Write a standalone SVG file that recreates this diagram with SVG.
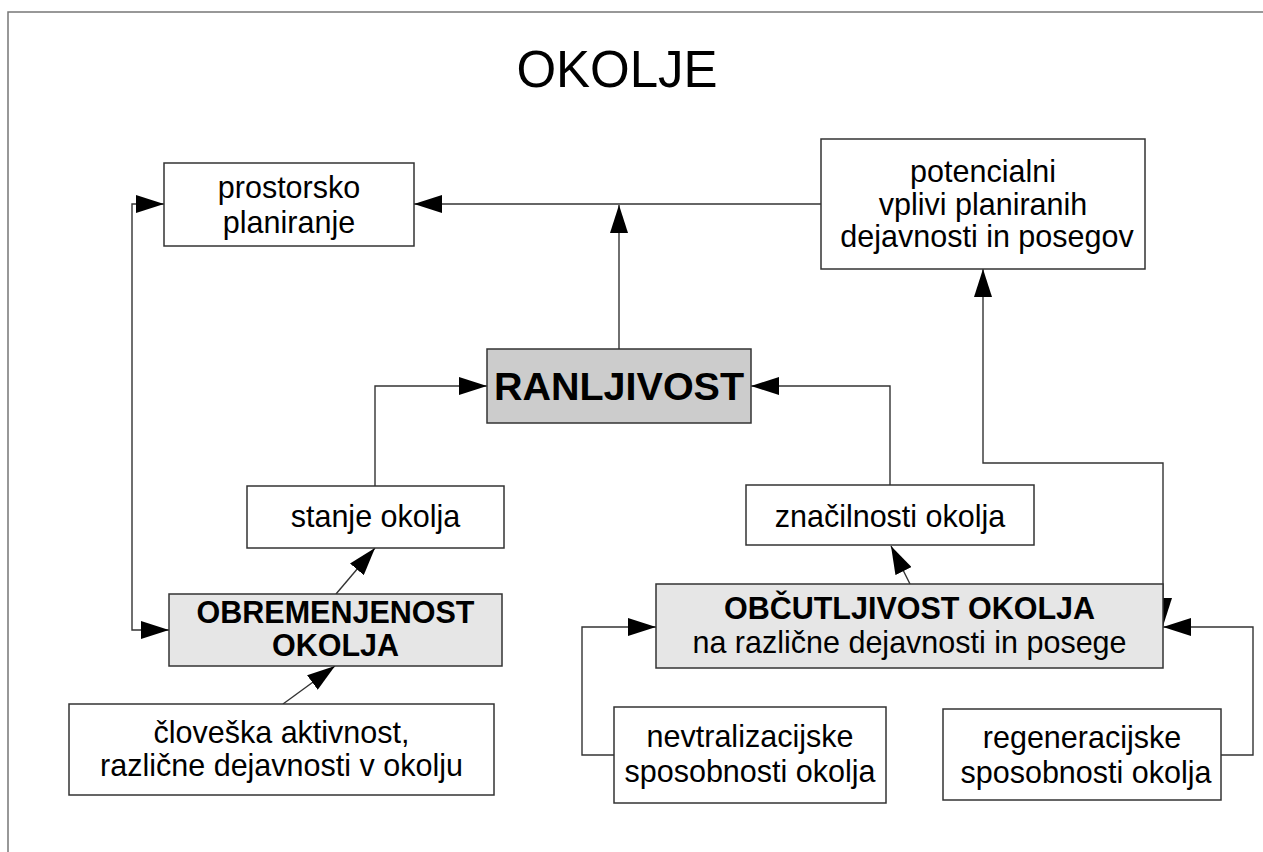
<svg xmlns="http://www.w3.org/2000/svg" width="1263" height="852" viewBox="0 0 1263 852">
<style>
.box{fill:#fff;stroke:#333;stroke-width:1.5}
.g1{fill:#ccc;stroke:#333;stroke-width:1.5}
.g2{fill:#e6e6e6;stroke:#333;stroke-width:1.5}
.t{font-family:"Liberation Sans",Arial,sans-serif;font-size:30.5px;fill:#000;text-anchor:middle}
.b{font-weight:bold}
.c{fill:none;stroke:#333;stroke-width:1.4}
</style>
<defs>
<marker id="ah" markerUnits="userSpaceOnUse" markerWidth="28" markerHeight="18" refX="28" refY="9" orient="auto-start-reverse" viewBox="0 0 28 18">
<path d="M0,0 L28,9 L0,18 z" fill="#000"/>
</marker>
</defs>
<rect width="1263" height="852" fill="#fff"/>
<g id="frame" fill="none" stroke="#777" stroke-width="1.5">
<path d="M8,852 L8,12 L1263,12"/>
</g>
<text class="t" x="617" y="87" style="font-size:51px">OKOLJE</text>
<g id="connectors">
<path class="c" d="M821,204 L414,204" marker-end="url(#ah)"/>
<path class="c" d="M619,349 L619,205" marker-end="url(#ah)"/>
<path class="c" d="M375,486 L375,386 L487,386" marker-end="url(#ah)"/>
<path class="c" d="M890,485 L890,386 L751,386" marker-end="url(#ah)"/>
<path class="c" d="M336,594 L375,548" marker-end="url(#ah)"/>
<path class="c" d="M283,704 L335,666" marker-end="url(#ah)"/>
<path class="c" d="M910,584 L891,546" marker-end="url(#ah)"/>
<path class="c" d="M164,204 L132,204 L132,630 L169,630" marker-start="url(#ah)" marker-end="url(#ah)"/>
<path class="c" d="M983,269 L983,463 L1163,463 L1163,626" marker-start="url(#ah)" marker-end="url(#ah)"/>
<path class="c" d="M614,755 L582,755 L582,627 L656,627" marker-end="url(#ah)"/>
<path class="c" d="M1221,755 L1253,755 L1253,627 L1163,627" marker-end="url(#ah)"/>
</g>
<g id="prostorsko">
<rect class="box" x="164" y="163" width="250" height="83"/>
<text class="t" x="289" y="198">prostorsko</text>
<text class="t" x="289" y="233">planiranje</text>
</g>
<g id="potencialni">
<rect class="box" x="821" y="139" width="324" height="130"/>
<text class="t" x="983" y="182">potencialni</text>
<text class="t" x="983" y="215">vplivi planiranih</text>
<text class="t" x="987" y="247">dejavnosti in posegov</text>
</g>
<g id="ranljivost">
<rect class="g1" x="487" y="349" width="264" height="74"/>
<text class="t b" x="619" y="400" style="font-size:39.5px">RANLJIVOST</text>
</g>
<g id="stanje">
<rect class="box" x="247" y="486" width="257" height="62"/>
<text class="t" x="375.5" y="527">stanje okolja</text>
</g>
<g id="znacilnosti">
<rect class="box" x="746" y="485" width="288" height="60"/>
<text class="t" x="890" y="527">značilnosti okolja</text>
</g>
<g id="obremenjenost">
<rect class="g2" x="169" y="594" width="333" height="72"/>
<text class="t b" x="335.5" y="623">OBREMENJENOST</text>
<text class="t b" x="335.5" y="656">OKOLJA</text>
</g>
<g id="obcutljivost">
<rect class="g2" x="656" y="584" width="507" height="84"/>
<text class="t b" x="909.5" y="619">OBČUTLJIVOST OKOLJA</text>
<text class="t" x="909.5" y="653">na različne dejavnosti in posege</text>
</g>
<g id="cloveska">
<rect class="box" x="69" y="704" width="425" height="91"/>
<text class="t" x="281.5" y="743">človeška aktivnost,</text>
<text class="t" x="281.5" y="776">različne dejavnosti v okolju</text>
</g>
<g id="nevtralizacijske">
<rect class="box" x="614" y="707" width="272" height="96"/>
<text class="t" x="750" y="747">nevtralizacijske</text>
<text class="t" x="750" y="782">sposobnosti okolja</text>
</g>
<g id="regeneracijske">
<rect class="box" x="943" y="709" width="278" height="91"/>
<text class="t" x="1082" y="748">regeneracijske</text>
<text class="t" x="1086" y="783">sposobnosti okolja</text>
</g>
</svg>
